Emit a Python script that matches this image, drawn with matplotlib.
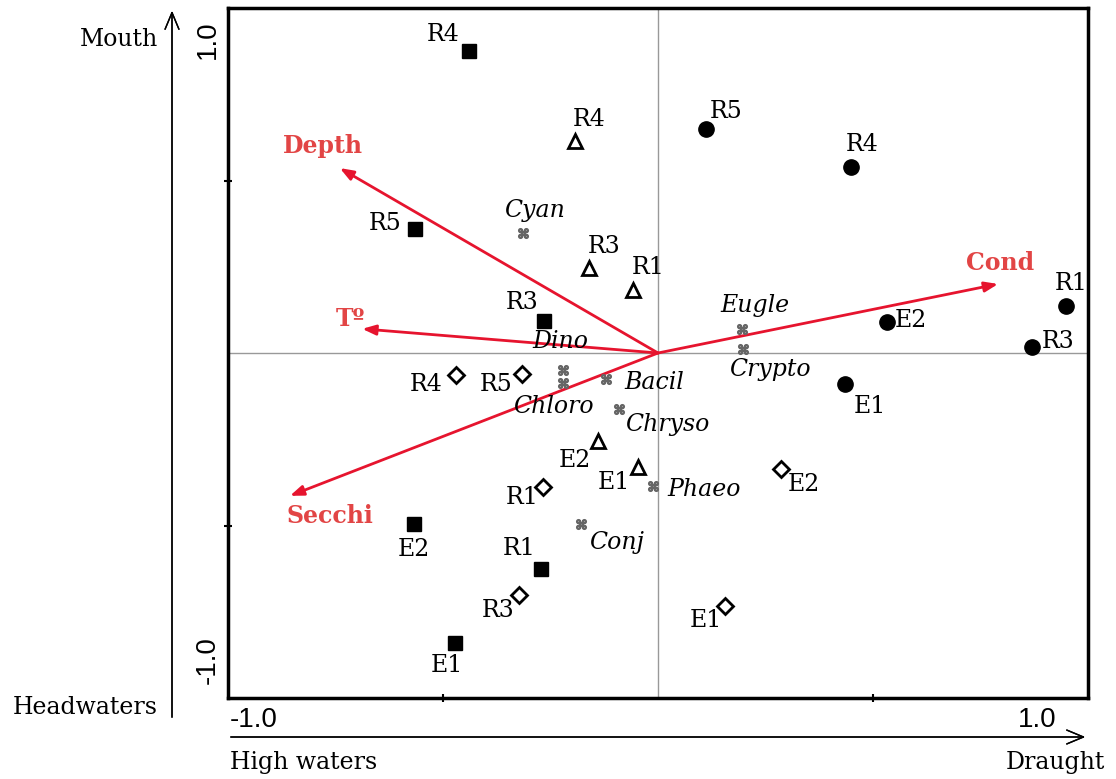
import numpy as np
import matplotlib.pyplot as plt

# sites by group (CCA scores, axis 1 / axis 2)
sq_names = ["R4", "R5", "R3", "E2", "R1", "E1"]
sq_x = [-0.440, -0.565, -0.265, -0.567, -0.272, -0.472]
sq_y = [0.875, 0.359, 0.093, -0.496, -0.626, -0.841]

tri_names = ["R4", "R3", "R1", "E2", "E1"]
tri_x = [-0.193, -0.160, -0.058, -0.140, -0.047]
tri_y = [0.614, 0.246, 0.183, -0.255, -0.330]

dia_names = ["R4", "R5", "R1", "R3", "E2", "E1"]
dia_x = [-0.470, -0.316, -0.267, -0.323, 0.286, 0.156]
dia_y = [-0.064, -0.061, -0.388, -0.701, -0.336, -0.733]

cir_names = ["R5", "R4", "R1", "E2", "R3", "E1"]
cir_x = [0.112, 0.449, 0.949, 0.533, 0.870, 0.435]
cir_y = [0.649, 0.539, 0.136, 0.090, 0.017, -0.090]

# phytoplankton groups
sp_names = ["Cyan", "Dino", "Chloro", "Bacil", "Chryso", "Phaeo", "Conj", "Eugle", "Crypto"]
sp_x = [-0.314, -0.221, -0.221, -0.121, -0.091, -0.012, -0.179, 0.195, 0.198]
sp_y = [0.348, -0.049, -0.087, -0.075, -0.162, -0.386, -0.496, 0.070, 0.012]

# environmental vectors
env_names = ["Depth", "Tº", "Secchi", "Cond"]
env_x = [-0.740, -0.688, -0.856, 0.791]
env_y = [0.536, 0.070, -0.414, 0.200]

# label offsets in pixels
sq_off = [(-26, 17), (-30, 6), (-22, 18), (0, -25), (-22, 20), (-8, -22)]
tri_off = [(14, 22), (15, 22), (15, 22), (-23, -20), (-24, -16)]
dia_off = [(-30, -9), (-26, -10), (-21, -11), (-21, -16), (23, -16), (-19, -15)]
cir_off = [(20, 18), (11, 23), (5, 23), (24, 1), (26, 6), (25, -22)]
sp_off = [(12, 22), (-3, 28), (-10, -23), (48, -4), (48, -16), (51, -3), (36, -18), (13, 23), (27, -21)]
env_off = [(-17, 22), (-12, 10), (40, -20), (2, 21)]

SERIF = "DejaVu Serif"
SANS = "Liberation Sans"
RED = "#e6142e"
RED_TXT = "#e24545"
FS = 17
FS_SANS = 20

fig = plt.figure(figsize=(11.16, 7.79), dpi=100)
ax = fig.add_axes([228 / 1116, 81 / 779, 860 / 1116, 690 / 779])
ax.set_xlim(-1, 1)
ax.set_ylim(-1, 1)
ax.axhline(0, color="#999999", lw=1, zorder=1)
ax.axvline(0, color="#999999", lw=1, zorder=1)

for sp in ax.spines.values():
    sp.set_linewidth(2.5)
ax.set_xticks([-0.5, 0.5])
ax.set_yticks([-0.5, 0.5])
ax.tick_params(direction="inout", length=6, width=1.5, labelbottom=False, labelleft=False)

# env arrows
for n, x, y, off in zip(env_names, env_x, env_y, env_off):
    ax.annotate("", xy=(x, y), xytext=(0, 0),
                arrowprops=dict(arrowstyle="-|>,head_length=0.8,head_width=0.3",
                                color=RED, lw=2, shrinkA=0, shrinkB=0), zorder=2)
    ax.annotate(n, (x, y), xytext=off, textcoords="offset pixels", ha="center", va="center",
                color=RED_TXT, fontsize=FS, fontweight="bold", family=SERIF)

def site_group(xs, ys, names, offs, **kw):
    ax.plot(xs, ys, ls="none", zorder=3, **kw)
    for n, x, y, off in zip(names, xs, ys, offs):
        ax.annotate(n, (x, y), xytext=off, textcoords="offset pixels",
                    ha="center", va="center", fontsize=FS, family=SERIF)

site_group(sq_x, sq_y, sq_names, sq_off, marker="s", ms=10, mfc="black", mec="black")
site_group(tri_x, tri_y, tri_names, tri_off, marker="^", ms=10, mfc="white", mec="black", mew=2)
site_group(dia_x, dia_y, dia_names, dia_off, marker="D", ms=8, mfc="white", mec="black", mew=2)
site_group(cir_x, cir_y, cir_names, cir_off, marker="o", ms=11, mfc="black", mec="black")

ax.plot(sp_x, sp_y, ls="none", marker="$\u2318$", ms=7, color="#666666", zorder=3)
for n, x, y, off in zip(sp_names, sp_x, sp_y, sp_off):
    ax.annotate(n, (x, y), xytext=off, textcoords="offset pixels", ha="center", va="center",
                fontsize=FS, family=SERIF, style="italic")

# outer axis arrows and labels
fig.add_artist(plt.annotate("", xy=(172 / 1116, 1 - 8 / 779), xytext=(172 / 1116, 1 - 720 / 779),
                            xycoords="figure fraction", textcoords="figure fraction",
                            arrowprops=dict(arrowstyle="->,head_length=1.2,head_width=0.5", lw=1, color="black")))
fig.add_artist(plt.annotate("", xy=(1088 / 1116, 1 - 737 / 779), xytext=(228 / 1116, 1 - 737 / 779),
                            xycoords="figure fraction", textcoords="figure fraction",
                            arrowprops=dict(arrowstyle="->,head_length=1.2,head_width=0.5", lw=1, color="black")))

fig.text(158 / 1116, 1 - 40 / 779, "Mouth", ha="right", va="center", fontsize=FS, family=SERIF)
fig.text(158 / 1116, 1 - 707 / 779, "Headwaters", ha="right", va="center", fontsize=FS, family=SERIF)
fig.text(230 / 1116, 1 - 762 / 779, "High waters", ha="left", va="center", fontsize=FS, family=SERIF)
fig.text(1105 / 1116, 1 - 762 / 779, "Draught", ha="right", va="center", fontsize=FS, family=SERIF)
fig.text(208 / 1116, 1 - 40 / 779, "1.0", rotation=90, ha="center", va="center", fontsize=FS_SANS, family=SANS)
fig.text(208 / 1116, 1 - 660 / 779, "-1.0", rotation=90, ha="center", va="center", fontsize=FS_SANS, family=SANS)
fig.text(230 / 1116, 1 - 720 / 779, "-1.0", ha="left", va="center", fontsize=FS_SANS, family=SANS)
fig.text(1037 / 1116, 1 - 720 / 779, "1.0", ha="center", va="center", fontsize=FS_SANS, family=SANS)

fig.savefig("out.png", dpi=100, facecolor="white")
